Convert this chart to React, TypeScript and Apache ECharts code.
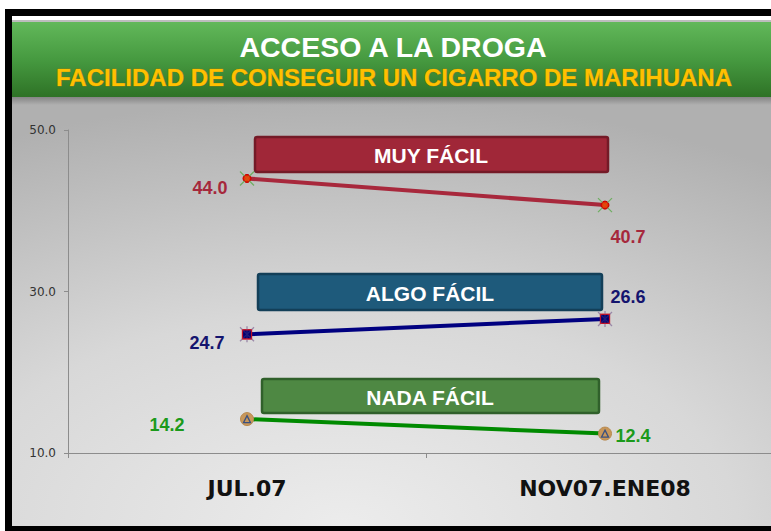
import React, { useEffect, useRef } from "react";
import * as echarts from "echarts";

const categories = ["JUL.07", "NOV07.ENE08"];
const muyFacil = [44.0, 40.7];
const algoFacil = [24.7, 26.6];
const nadaFacil = [14.2, 12.4];
const yTicks = { min: 10, max: 50, interval: 20 };
const seriesNames = ["MUY FÁCIL", "ALGO FÁCIL", "NADA FÁCIL"];
const titleText = "ACCESO A LA DROGA";
const subtitleText = "FACILIDAD DE CONSEGUIR UN CIGARRO DE MARIHUANA";

// label offsets (style only)
const muyOffsets = [[-37, 10], [23, 32]];
const algoOffsets = [[-40, 9], [23, -22]];
const nadaOffsets = [[-80, 6], [28, 2]];

function withLabels(values: number[], offsets: number[][], color: string) {
  return values.map((v, i) => ({
    value: v,
    label: {
      show: true,
      position: "inside",
      offset: offsets[i],
      formatter: (p: any) => Number(p.value).toFixed(1),
      color,
      fontSize: 18,
      fontWeight: "bold",
      fontFamily: "Liberation Sans, Arial, sans-serif",
    },
  }));
}

function crossSeries(values: number[], color: string, withVertical: boolean, name: string) {
  return {
    name,
    type: "custom",
    z: 5,
    silent: true,
    data: values.map((v, i) => [i, v]),
    renderItem: (_params: any, api: any) => {
      const p = api.coord([api.value(0), api.value(1)]);
      const s = 7;
      const children: any[] = [
        { type: "line", shape: { x1: p[0] - s, y1: p[1] - s, x2: p[0] + s, y2: p[1] + s }, style: { stroke: color, lineWidth: 1.3 } },
        { type: "line", shape: { x1: p[0] + s, y1: p[1] - s, x2: p[0] - s, y2: p[1] + s }, style: { stroke: color, lineWidth: 1.3 } },
      ];
      if (withVertical) {
        children.push({ type: "line", shape: { x1: p[0], y1: p[1] - s - 1, x2: p[0], y2: p[1] + s + 1 }, style: { stroke: color, lineWidth: 1.3 } });
      }
      return { type: "group", children };
    },
  };
}

export default function App() {
  const ref = useRef<HTMLDivElement>(null);
  useEffect(() => {
    document.body.style.margin = "0";
    if (!ref.current) return;
    const chart = echarts.init(ref.current, null, { renderer: "svg" });
    const W = 800;
    const H = 531;
    const boxFont = 'bold 21px "Liberation Sans", Arial, sans-serif';
    const boxText = (text: string, x: number, y: number) => ({
      type: "text", z: 6, silent: true,
      style: {
        text, x, y, align: "center", verticalAlign: "middle", font: boxFont, fill: "#ffffff",
        shadowColor: "rgba(0,0,0,0.6)", shadowBlur: 1, shadowOffsetX: 1, shadowOffsetY: 1,
      },
    });
    const option: any = {
      animation: false,
      graphic: [
        { type: "rect", z: -20, silent: true, shape: { x: 0, y: 0, width: W, height: H }, style: { fill: "#ffffff" } },
        { type: "rect", z: -19, silent: true, shape: { x: 5, y: 9, width: W - 5, height: H - 9 }, style: { fill: "#000000" } },
        { type: "rect", z: -18, silent: true, shape: { x: 12, y: 16, width: W - 12, height: 6 }, style: { fill: "#ffffff" } },
        { type: "rect", z: -18, silent: true, shape: { x: 12, y: 20, width: W - 12, height: 2 }, style: { fill: "#bdbdbd" } },
        {
          type: "rect", z: -18, silent: true,
          shape: { x: 12, y: 97, width: W - 12, height: 429 },
          style: {
            fill: new echarts.graphic.RadialGradient(0.42, 1.0, 1.0, [
              { offset: 0, color: "#ececec" },
              { offset: 0.5, color: "#d8d8d8" },
              { offset: 1, color: "#b0b0b0" },
            ]),
          },
        },
        {
          type: "rect", z: -17, silent: true,
          shape: { x: 12, y: 97, width: W - 12, height: 8 },
          style: {
            fill: new echarts.graphic.LinearGradient(0, 0, 0, 1, [
              { offset: 0, color: "rgba(80,80,80,0.45)" },
              { offset: 1, color: "rgba(80,80,80,0)" },
            ]),
          },
        },
        {
          type: "rect", z: -17, silent: true,
          shape: { x: 12, y: 22, width: W - 12, height: 75 },
          style: {
            fill: new echarts.graphic.LinearGradient(0, 0, 0, 1, [
              { offset: 0, color: "#62b85a" },
              { offset: 0.5, color: "#469a40" },
              { offset: 1, color: "#2e7226" },
            ]),
          },
        },
        {
          type: "text", z: 10, silent: true,
          style: {
            text: titleText, x: 393, y: 47, align: "center", verticalAlign: "middle",
            font: 'bold 28.5px "Liberation Sans", Arial, sans-serif', fill: "#ffffff",
            shadowColor: "rgba(0,0,0,0.5)", shadowBlur: 2, shadowOffsetX: 1, shadowOffsetY: 1,
          },
        },
        {
          type: "text", z: 10, silent: true,
          style: {
            text: subtitleText, x: 394, y: 77, align: "center", verticalAlign: "middle",
            font: 'bold 24px "Liberation Sans", Arial, sans-serif', fill: "#ffc000",
            stroke: "#b07a00", lineWidth: 0.6,
          },
        },
        {
          type: "rect", z: 5, silent: true,
          shape: { x: 255, y: 137, width: 353, height: 35, r: 2 },
          style: { fill: "#a02738", stroke: "#741a27", lineWidth: 2.5 },
        },
        boxText(seriesNames[0], 431, 155),
        {
          type: "rect", z: 5, silent: true,
          shape: { x: 258, y: 274, width: 344, height: 36, r: 2 },
          style: { fill: "#1e5a7b", stroke: "#133f58", lineWidth: 2.5 },
        },
        boxText(seriesNames[1], 430, 293),
        {
          type: "rect", z: 5, silent: true,
          shape: { x: 262, y: 379, width: 337, height: 34, r: 2 },
          style: { fill: "#4e8843", stroke: "#30602b", lineWidth: 2.5 },
        },
        boxText(seriesNames[2], 430, 397),
      ],
      grid: { left: 68, top: 130, width: 716, height: 323, containLabel: false },
      xAxis: {
        type: "category",
        data: categories,
        boundaryGap: true,
        axisLine: { show: true, lineStyle: { color: "#8c8c8c", width: 1 } },
        axisTick: { show: true, length: 5, lineStyle: { color: "#8c8c8c" } },
        axisLabel: {
          color: "#111111", fontSize: 22, fontWeight: "bold",
          fontFamily: "DejaVu Sans, Verdana, sans-serif", margin: 24,
        },
        splitLine: { show: false },
      },
      yAxis: {
        type: "value",
        min: yTicks.min,
        max: yTicks.max,
        interval: yTicks.interval,
        axisLine: { show: true, lineStyle: { color: "#8c8c8c", width: 1 } },
        axisTick: { show: true, length: 4, lineStyle: { color: "#8c8c8c" } },
        axisLabel: {
          color: "#333333", fontSize: 12, fontFamily: "DejaVu Sans, Verdana, sans-serif",
          margin: 12, formatter: (v: number) => v.toFixed(1),
        },
        splitLine: { show: false },
      },
      series: [
        {
          name: seriesNames[0],
          type: "line", z: 4,
          data: withLabels(muyFacil, muyOffsets, "#a6283c"),
          lineStyle: { color: "#a8283c", width: 4 },
          symbol: "circle", symbolSize: 8,
          itemStyle: { color: "#ee3a00", borderColor: "#c80000", borderWidth: 1 },
        },
        crossSeries(muyFacil, "#6fae62", false, seriesNames[0] + " x"),
        {
          name: seriesNames[0] + " dot",
          type: "scatter", z: 6, silent: true,
          data: muyFacil,
          symbol: "circle", symbolSize: 7,
          itemStyle: { color: "#ee3a00", borderColor: "#c80000", borderWidth: 1 },
        },
        {
          name: seriesNames[1],
          type: "line", z: 4,
          data: withLabels(algoFacil, algoOffsets, "#14146e"),
          lineStyle: { color: "#000080", width: 4 },
          symbol: "rect", symbolSize: 9,
          itemStyle: { color: "#000070", borderColor: "#d01020", borderWidth: 1.2 },
        },
        crossSeries(algoFacil, "#9a88a8", true, seriesNames[1] + " x"),
        {
          name: seriesNames[1] + " sq",
          type: "scatter", z: 6, silent: true,
          data: algoFacil,
          symbol: "rect", symbolSize: 9,
          itemStyle: { color: "#000070", borderColor: "#d01020", borderWidth: 1.2 },
        },
        {
          name: seriesNames[2],
          type: "line", z: 4,
          data: withLabels(nadaFacil, nadaOffsets, "#1b9a1b"),
          lineStyle: { color: "#008a00", width: 4 },
          symbol: "circle", symbolSize: 13,
          itemStyle: { color: "#c8975a", borderColor: "#b88a50", borderWidth: 1 },
        },
        {
          name: seriesNames[2] + " tri",
          type: "scatter", z: 5, silent: true,
          data: nadaFacil,
          symbol: "triangle", symbolSize: 7,
          itemStyle: { color: "rgba(0,0,0,0)", borderColor: "#16408a", borderWidth: 1.3 },
        },
      ],
    };
    chart.setOption(option);
    return () => chart.dispose();
  }, []);
  return (
    <div style={{ width: 771, height: 531, overflow: "hidden" }}>
      <div ref={ref} style={{ width: 800, height: 531 }} />
    </div>
  );
}
